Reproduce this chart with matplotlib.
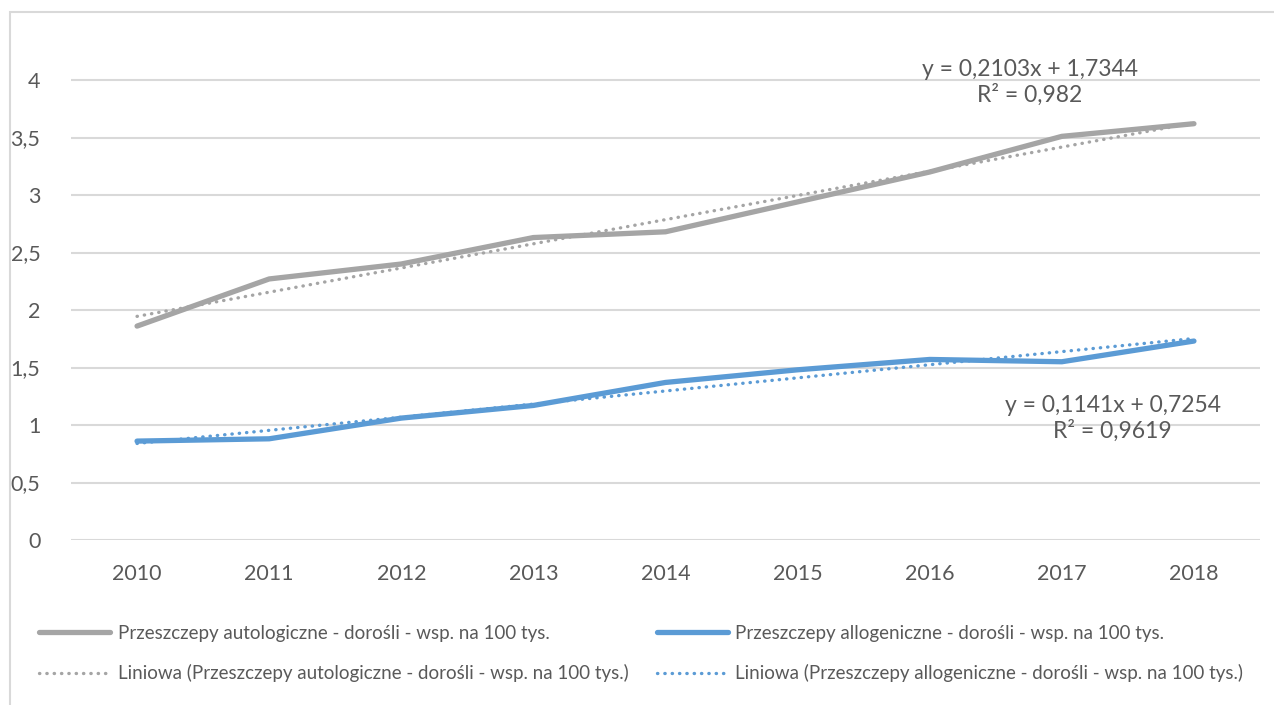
import matplotlib.pyplot as plt
from matplotlib.patches import Rectangle

years = ['2010', '2011', '2012', '2013', '2014', '2015', '2016', '2017', '2018']
auto = [1.86, 2.27, 2.40, 2.63, 2.68, 2.94, 3.20, 3.51, 3.62]
allo = [0.86, 0.88, 1.06, 1.17, 1.37, 1.48, 1.57, 1.55, 1.73]

# linear trend coefficients (slope, intercept) as reported in the chart
auto_fit = [0.2103, 1.7344]
allo_fit = [0.1141, 0.7254]
auto_r2 = '0,982'
allo_r2 = '0,9619'

labels = ['Przeszczepy autologiczne - dorośli - wsp. na 100 tys.',
          'Przeszczepy allogeniczne - dorośli - wsp. na 100 tys.']

GRAY = '#A5A5A5'
BLUE = '#5B9BD5'
TXT = '#595959'
GRID = '#D9D9D9'

plt.rcParams['font.family'] = ['Lato', 'DejaVu Sans']

W, H = 1274, 705
fig = plt.figure(figsize=(W / 100, H / 100), dpi=100)
ax = fig.add_axes([71 / W, 1 - 540 / H, (1260 - 71) / W, (540 - 22.5) / H])

# chart area border (partly cropped)
fig.patches.append(Rectangle((10 / W, -0.1), 1.2, 1 - 12 / H + 0.1,
                             transform=fig.transFigure, fill=False,
                             edgecolor=GRID, linewidth=1.5))

x = list(range(1, len(years) + 1))


def trend(fit):
    return [fit[0] * xi + fit[1] for xi in x]


l1, = ax.plot(x, auto, color=GRAY, lw=3.8, solid_capstyle='round', zorder=3)
l2, = ax.plot(x, allo, color=BLUE, lw=3.8, solid_capstyle='round', zorder=3)
t1, = ax.plot(x, trend(auto_fit), color=GRAY, lw=2.4,
              linestyle=(0, (0.1, 2.1)), dash_capstyle='round', zorder=4)
t2, = ax.plot(x, trend(allo_fit), color=BLUE, lw=2.4,
              linestyle=(0, (0.1, 2.1)), dash_capstyle='round', zorder=4)

ax.set_xlim(0.5, len(years) + 0.5)
ax.set_ylim(0, 4.5)
ax.set_yticks([0, 0.5, 1, 1.5, 2, 2.5, 3, 3.5, 4])
ax.set_yticklabels(['0', '0,5', '1', '1,5', '2', '2,5', '3', '3,5', '4'])
ax.set_xticks(x)
ax.set_xticklabels(years)
ax.tick_params(length=0, labelsize=15.5, labelcolor=TXT)
ax.tick_params(axis='y', pad=22)
ax.tick_params(axis='x', pad=17)
ax.grid(axis='y', color=GRID, lw=1.5)
ax.set_axisbelow(True)
for s in ax.spines.values():
    s.set_visible(False)

def fmt(v):
    return f'{v:.4f}'.replace('.', ',')

ax.text(0.8066, 0.884, f'y = {fmt(auto_fit[0])}x + {fmt(auto_fit[1])}\nR² = {auto_r2}',
        transform=ax.transAxes, ha='center', va='center', fontsize=16.5,
        color=TXT, linespacing=1.2)
ax.text(0.876, 0.235, f'y = {fmt(allo_fit[0])}x + {fmt(allo_fit[1])}\nR² = {allo_r2}',
        transform=ax.transAxes, ha='center', va='center', fontsize=16.5,
        color=TXT, linespacing=1.2)

leg = fig.legend([l1, t1, l2, t2],
                 [labels[0], 'Liniowa (' + labels[0] + ')',
                  labels[1], 'Liniowa (' + labels[1] + ')'],
                 ncol=2, loc='upper left', bbox_to_anchor=(22 / W, 1 - 608 / H),
                 frameon=False, fontsize=13.5, labelcolor=TXT,
                 handlelength=3.8, handletextpad=0.4, columnspacing=1.5,
                 labelspacing=1.2)

fig.savefig('out.png', dpi=100)
